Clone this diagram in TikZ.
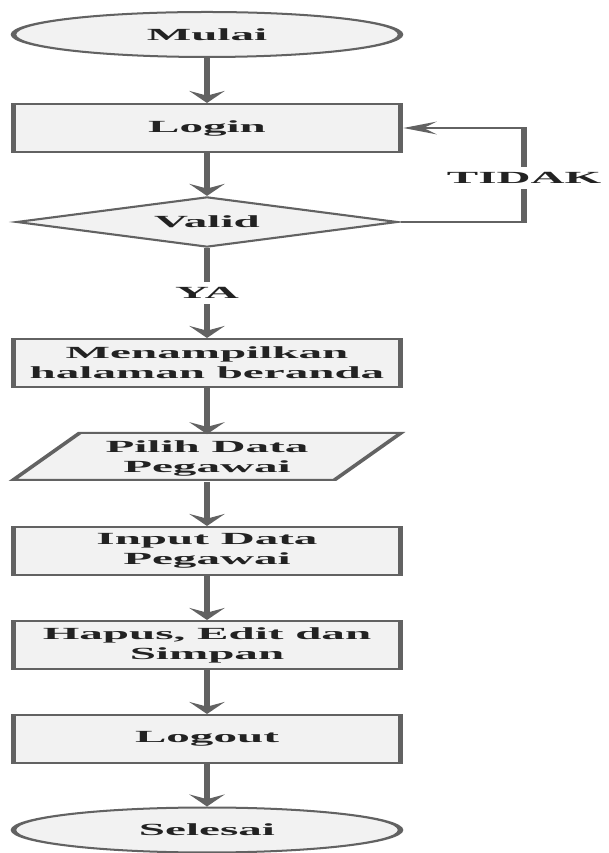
\documentclass[tikz,border=0pt]{standalone}
\usepackage{fontspec}
\setmainfont{Liberation Serif}
\usetikzlibrary{shapes.geometric,arrows.meta,calc}
\definecolor{lc}{RGB}{98,98,98}
\definecolor{fc}{RGB}{242,242,242}
\definecolor{tc}{RGB}{34,34,34}
\begin{document}
\begin{tikzpicture}[x=0.75pt,y=0.75pt,
  txt/.style={text=tc,font=\fontsize{12.75pt}{15pt}\selectfont\bfseries,align=center},
  base/.style={txt,draw=lc,line width=1.5pt,fill=fc,inner sep=0pt},
  procbox/.style={base,rectangle,minimum width=104.8pt,minimum height=36pt},
  term/.style={base,ellipse,minimum width=104.8pt,minimum height=33.75pt},
  decide/.style={base,diamond,minimum width=103.5pt,minimum height=34.5pt},
  iobox/.style={txt,rectangle,inner sep=0pt,minimum width=87pt,minimum height=35.25pt},
  ioframe/.style={draw=lc,line width=1.5pt,fill=fc,line join=miter},
  flow/.style={draw=lc,line width=1.5pt,-{Stealth[length=9pt,width=9.5pt,inset=3.5pt]}},
  lab/.style={txt,fill=white,inner sep=4pt}
]
\useasboundingbox (0,0) rectangle (609,853);
\begin{scope}[transform canvas={xscale=2.77}]
  \node[term] (mulai) at (74.73,818.5) {Mulai};
  \node[procbox] (login) at (74.73,725) {Login};
  \node[decide] (valid) at (74.73,631) {Valid};
  \node[procbox] (beranda) at (74.73,490) {Menampilkan\\halaman beranda};
  \coordinate (pc) at (74.73,396.5);
  \draw[ioframe] ($(pc)+(-70,-23.5)$) -- ($(pc)+(-46,23.5)$) -- ($(pc)+(70,23.5)$) -- ($(pc)+(46,-23.5)$) -- cycle;
  \node[iobox] (pilih) at ($(pc)+(0,-1.5)$) {Pilih Data\\Pegawai};
  \node[procbox] (input) at (74.73,302) {Input Data\\Pegawai};
  \node[procbox] (hapus) at (74.73,208) {Hapus, Edit dan\\Simpan};
  \node[procbox] (logout) at (74.73,114) {Logout};
  \node[term] (selesai) at (74.73,23) {Selesai};
  \coordinate (loopx) at (189.2,0);

  \draw[flow] (mulai) -- (login);
  \draw[flow] (login) -- (valid);
  \draw[flow] (valid) -- node[lab] (ya) {YA} (beranda);
  \draw[flow] (beranda) -- (pc |- pilih.north);
  \draw[flow] (pc |- pilih.south) -- (input);
  \draw[flow] (input) -- (hapus);
  \draw[flow] (hapus) -- (logout);
  \draw[flow] (logout) -- (selesai);
  \draw[flow] (valid.east) -- (valid.east -| loopx) -- node[lab,pos=0.47] (tidak) {TIDAK} (login.east -| loopx) -- (login.east);
\end{scope}
\end{tikzpicture}
\end{document}
